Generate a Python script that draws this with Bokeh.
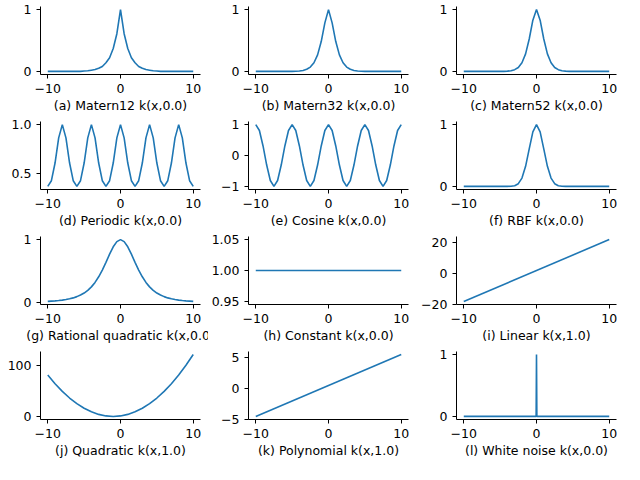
import numpy as np
from bokeh.layouts import gridplot
from bokeh.plotting import figure
from bokeh.models import Range1d
from bokeh.embed import file_html
from bokeh.resources import INLINE

# sample points (step 0.5)
xs = list(np.arange(-10, 10.5, 0.5))

def mirror(half):
    # half: values at 0, 0.5, ..., 10
    return half[:0:-1] + half

matern12 = mirror([1, .61, .37, .22, .14, .08, .05, .03, .02, .01, .007] + [0] * 10)
matern32 = mirror([1, .785, .483, .268, .14, .07, .034, .016, .007, .003] + [0] * 11)
matern52 = mirror([1, .829, .524, .283, .139, .063, .028, .011, .004] + [0] * 12)
periodic = mirror(([1, .864, .607, .426, .368, .426, .607, .864] * 3)[:21])
cosine = mirror(([1, .809, .309, -.309, -.809, -1, -.809, -.309, .309, .809] * 3)[:21])
rbf = mirror([1, .882, .607, .325, .135, .044, .011, .002] + [0] * 13)
ratquad = mirror([1, .969, .886, .769, .64, .517, .41, .321, .25, .195, .152, .12,
                  .095, .075, .061, .049, .04, .033, .027, .023, .019])
const_x = [-10, 10]
const_y = [1.0, 1.0]
lin_x = [-10, 10]
lin_y = [-18, 22]
quad_x = list(range(-10, 11))
quad_y = [81, 64, 49, 36, 25, 16, 9, 4, 1, 0, 1, 4, 9, 16, 25, 36, 49, 64, 81, 100, 121]
poly_x = [-10, 10]
poly_y = [-4.5, 5.5]
white_x = [-10, -0.05, 0, 0.05, 10]
white_y = [0, 0, 1, 0, 0]

panels = [
    ("(a) Matern12 k(x,0.0)", xs, matern12, (-0.05, 1.05), [0, 1], None),
    ("(b) Matern32 k(x,0.0)", xs, matern32, (-0.05, 1.05), [0, 1], None),
    ("(c) Matern52 k(x,0.0)", xs, matern52, (-0.05, 1.05), [0, 1], None),
    ("(d) Periodic k(x,0.0)", xs, periodic, (0.336, 1.032), [0.5, 1.0], {0.5: "0.5", 1.0: "1.0"}),
    ("(e) Cosine k(x,0.0)", xs, cosine, (-1.1, 1.1), [-1, 0, 1], None),
    ("(f) RBF k(x,0.0)", xs, rbf, (-0.05, 1.05), [0, 1], None),
    ("(g) Rational quadratic k(x,0.0)", xs, ratquad, (-0.03, 1.05), [0, 1], None),
    ("(h) Constant k(x,0.0)", const_x, const_y, (0.945, 1.055), [0.95, 1.0, 1.05],
     {0.95: "0.95", 1.0: "1.00", 1.05: "1.05"}),
    ("(i) Linear k(x,1.0)", lin_x, lin_y, (-20, 24), [-20, 0, 20], None),
    ("(j) Quadratic k(x,1.0)", quad_x, quad_y, (-6, 127), [0, 100], None),
    ("(k) Polynomial k(x,1.0)", poly_x, poly_y, (-5, 6), [-5, 0, 5], None),
    ("(l) White noise k(x,0.0)", white_x, white_y, (-0.05, 1.05), [0, 1], None),
]

figs = []
for label, x, y, yr, yt, overrides in panels:
    f = figure(width=208, height=115, output_backend="svg", toolbar_location=None,
               x_range=Range1d(-11, 11), y_range=Range1d(*yr),
               min_border_left=40, min_border_right=8, min_border_top=6, min_border_bottom=4)
    f.line(x, y, line_width=1.6, color="#1f77b4")
    f.grid.visible = False
    f.outline_line_color = None
    f.xaxis.ticker = [-10, 0, 10]
    f.yaxis.ticker = yt
    if overrides:
        f.yaxis.major_label_overrides = overrides
    f.xaxis.axis_label = label
    f.axis.axis_label_text_font_style = "normal"
    f.axis.axis_label_text_font = "DejaVu Sans"
    f.axis.major_label_text_font = "DejaVu Sans"
    f.axis.axis_label_text_font_size = "12.5px"
    f.axis.major_label_text_font_size = "12.5px"
    f.axis.minor_tick_line_color = None
    f.axis.major_tick_in = 0
    f.axis.major_tick_out = 4
    f.xaxis.axis_label_standoff = 2
    f.axis.major_label_text_color = "black"
    f.axis.axis_label_text_color = "black"
    f.axis.axis_line_color = "black"
    f.axis.major_tick_line_color = "black"
    figs.append(f)

p = gridplot([figs[i:i + 3] for i in range(0, 12, 3)], toolbar_location=None)
open("out.html", "w").write(file_html(p, INLINE))
